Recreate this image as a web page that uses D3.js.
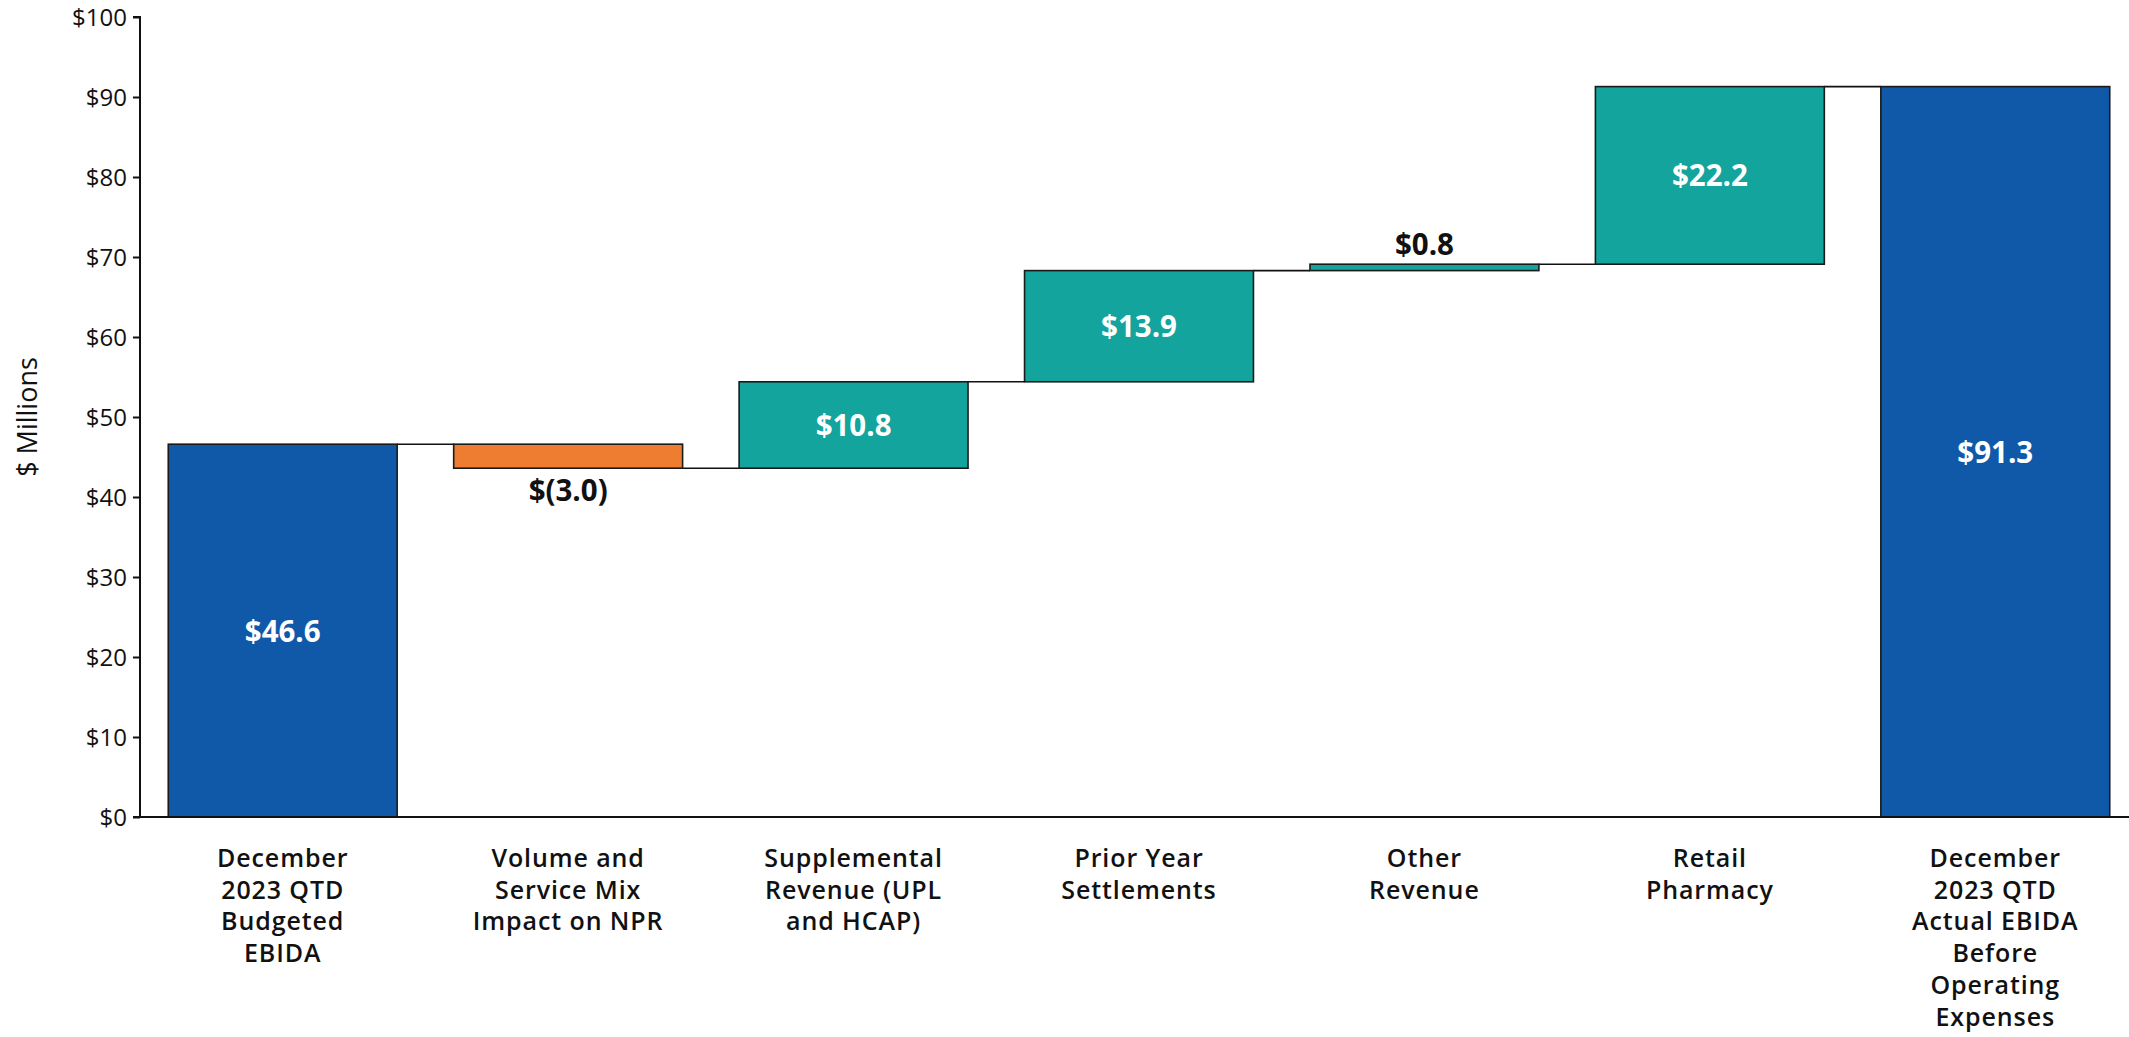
<!DOCTYPE html>
<html>
<head>
<meta charset="utf-8">
<script src="https://cdn.jsdelivr.net/npm/d3@7"></script>
<style>
  html, body { margin: 0; padding: 0; background: #fff; }
  svg { display: block; }
</style>
</head>
<body>
<svg id="chart" width="2129" height="1037"></svg>
<script>
// ---- data ----
const categories = [
  ["December", "2023 QTD", "Budgeted", "EBIDA"],
  ["Volume and", "Service Mix", "Impact on NPR"],
  ["Supplemental", "Revenue (UPL", "and HCAP)"],
  ["Prior Year", "Settlements"],
  ["Other", "Revenue"],
  ["Retail", "Pharmacy"],
  ["December", "2023 QTD", "Actual EBIDA", "Before", "Operating", "Expenses"]
];
const values = [46.6, -3.0, 10.8, 13.9, 0.8, 22.2, 91.3];
const kinds = ["total", "delta", "delta", "delta", "delta", "delta", "total"];
const valueLabels = ["$46.6", "$(3.0)", "$10.8", "$13.9", "$0.8", "$22.2", "$91.3"];
const yTicks = [0, 10, 20, 30, 40, 50, 60, 70, 80, 90, 100];

// ---- build waterfall segments ----
let running = 0;
const bars = values.map((v, i) => {
  let y0, y1;
  if (kinds[i] === "total") { y0 = 0; y1 = v; running = v; }
  else { y0 = running; y1 = running + v; running = y1; }
  return { i, v, y0, y1, lo: Math.min(y0, y1), hi: Math.max(y0, y1), kind: kinds[i], label: valueLabels[i] };
});

const colors = { total: "#1059A9", up: "#12A49D", down: "#EE7D31" };

const svg = d3.select("#chart");
const axisX = 140;
const y = d3.scaleLinear().domain([0, 100]).range([817, 17]);
const x = d3.scaleBand().domain(d3.range(categories.length)).range([axisX, 2138]).paddingInner(0.198).paddingOuter(0.099);

// connectors
const conn = svg.append("g");
bars.slice(0, -1).forEach((b, i) => {
  conn.append("line")
    .attr("x1", x(i) + x.bandwidth())
    .attr("x2", x(i + 1))
    .attr("y1", y(b.y1)).attr("y2", y(b.y1))
    .attr("stroke", "#111").attr("stroke-width", 1.6);
});

// bars
svg.append("g").selectAll("rect").data(bars).join("rect")
  .attr("x", d => x(d.i))
  .attr("width", x.bandwidth())
  .attr("y", d => y(d.hi))
  .attr("height", d => y(d.lo) - y(d.hi))
  .attr("fill", d => d.kind === "total" ? colors.total : (d.v < 0 ? colors.down : colors.up))
  .attr("stroke", "#1a1a1a")
  .attr("stroke-width", 1.6);

// value labels
svg.append("g").selectAll("text").data(bars).join("text")
  .attr("x", d => x(d.i) + x.bandwidth() / 2)
  .attr("y", d => {
    const h = y(d.lo) - y(d.hi);
    if (h < 40) {
      return d.v < 0 ? y(d.lo) + 33 : y(d.hi) - 9;
    }
    return (y(d.lo) + y(d.hi)) / 2 + 11;
  })
  .attr("text-anchor", "middle")
  .attr("font-family", "'Open Sans', sans-serif")
  .attr("font-weight", 700)
  .attr("font-size", 29.5)
  .attr("fill", d => (y(d.lo) - y(d.hi)) < 40 ? "#111" : "#fff")
  .text(d => d.label);

// y axis
const yAxis = d3.axisLeft(y).tickValues(yTicks).tickSize(7).tickPadding(6).tickFormat(d => "$" + d);
const gy = svg.append("g").attr("transform", `translate(${axisX},0)`).call(yAxis);
gy.select(".domain").attr("stroke", "#111").attr("stroke-width", 2).attr("d", `M-7,${y(100)}H0V${y(0)}`);
gy.selectAll(".tick line").attr("stroke", "#111").attr("stroke-width", 2);
gy.selectAll(".tick text")
  .attr("font-family", "'Open Sans', sans-serif")
  .attr("font-size", 24)
  .attr("fill", "#111")
  .attr("dy", "0.34em");

// x axis baseline
svg.append("line")
  .attr("x1", axisX - 7).attr("x2", 2129)
  .attr("y1", y(0)).attr("y2", y(0))
  .attr("stroke", "#111").attr("stroke-width", 2);

// category labels
const cat = svg.append("g");
categories.forEach((lines, i) => {
  const t = cat.append("text")
    .attr("x", x(i) + x.bandwidth() / 2)
    .attr("y", 867)
    .attr("text-anchor", "middle")
    .attr("font-family", "'Open Sans', sans-serif")
    .attr("font-weight", 600)
    .attr("font-size", 25)
    .attr("letter-spacing", 0.9)
    .attr("fill", "#111");
  lines.forEach((ln, k) => {
    t.append("tspan").attr("x", x(i) + x.bandwidth() / 2).attr("dy", k === 0 ? 0 : 31.7).text(ln);
  });
});

// y-axis title
svg.append("text")
  .attr("transform", `translate(37,417) rotate(-90)`)
  .attr("text-anchor", "middle")
  .attr("font-family", "'Open Sans', sans-serif")
  .attr("font-size", 27)
  .attr("fill", "#111")
  .text("$ Millions");
</script>
</body>
</html>
